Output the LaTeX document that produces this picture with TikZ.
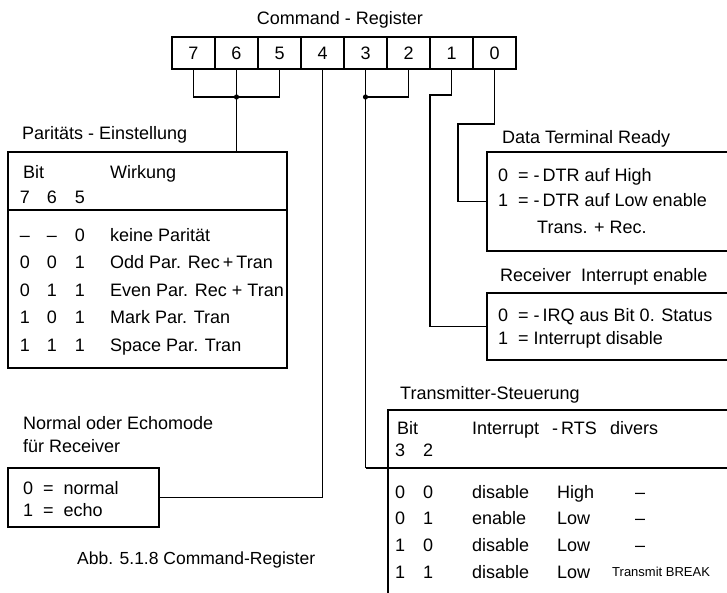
\documentclass[tikz,border=0pt]{standalone}
\usepackage{fontspec}
\setmainfont{Liberation Sans}
\newfontfamily\capfont{Liberation Sans}
\usetikzlibrary{positioning}

\tikzset{
  cell/.style={draw,line width=1.6pt,minimum width=43pt,minimum height=32pt,inner sep=0pt,outer sep=0pt},
  frame/.style={draw,line width=2.8pt,outer sep=0pt,anchor=north west},
  sepline/.style={line width=2.2pt},
  wire/.style={line width=1.6pt},
  txt/.style={anchor=west,inner sep=0pt,text height=12.5pt,text depth=0pt},
  bitno/.style={inner sep=0pt,text height=12.5pt,text depth=0pt},
  small/.style={font=\fontsize{13}{15}\selectfont,text height=9.5pt},
}

\begin{document}
\begin{tikzpicture}[x=1pt,y=-1pt,font=\fontsize{18}{22}\selectfont]
  \useasboundingbox (0,0) rectangle (727,592);
  \clip (0,0) rectangle (727,592);

  % register
  \node[bitno] (title) at (340,18) {Command - Register};
  \foreach \b [count=\i from 0] in {7,6,5,4,3,2,1,0}
    \node[cell] (b\b) at (193.5+43*\i,53) {\b};
  \draw[line width=2.8pt] (b7.north west) rectangle (b0.south east);

  % boxes
  \node[frame,minimum width=279pt,minimum height=216pt] (par) at (8,152) {};
  \node[frame,minimum width=151pt,minimum height=59pt] (echo) at (8,468) {};
  \node[frame,minimum width=260pt,minimum height=99pt] (dtr) at (487,152) {};
  \node[frame,minimum width=260pt,minimum height=67pt] (rie) at (487,293) {};
  \node[frame,minimum width=360pt,minimum height=200pt] (trans) at (388,410) {};
  \coordinate (psep) at (8,210);
  \coordinate (tsep) at (365.5,468);
  \draw[sepline] (psep) -- (psep -| par.east);
  \draw[sepline] (tsep) -- (tsep -| trans.east);

  % Paritaet
  \node[txt] (parlbl) at (22,133) {Paritäts - Einstellung};
  \node[txt] (parbit) at (23,172) {Bit};
  \node[txt] (parwirk) at (110,172) {Wirkung};
  \node[bitno] (p7) at (25,197) {7};
  \node[bitno] (p6) at (52,197) {6};
  \node[bitno] (p5) at (80,197) {5};
  \foreach \r/\u/\v/\w/\t in {1/–/–/0/keine Parität,
      2/0/0/1/Odd Par. Rec\,+\,Tran,
      3/0/1/1/Even Par. Rec + Tran,
      4/1/0/1/Mark Par. Tran,
      5/1/1/1/Space Par. Tran}{
    \node[bitno] (pa\r) at (25,{235+27.5*(\r-1)}) {\u};
    \node[bitno] (pb\r) at (52,{235+27.5*(\r-1)}) {\v};
    \node[bitno] (pc\r) at (80,{235+27.5*(\r-1)}) {\w};
    \node[txt] (pt\r) at (110,{235+27.5*(\r-1)}) {\t};
  }

  % Echomode
  \node[txt] (echolbl) at (23,423) {Normal oder Echomode};
  \node[txt] (echolbl2) at (23,446) {für Receiver};
  \node[txt] (echo0) at (23,488) {0 ~= ~normal};
  \node[txt] (echo1) at (23,510) {1 ~= ~echo};

  % DTR und IRQ
  \node[txt] (dtrlbl) at (502,137) {Data Terminal Ready};
  \node[txt] (dtr0) at (498,175) {0 ~= -\,DTR auf High};
  \node[txt] (dtr1) at (498,200) {1 ~= -\,DTR auf Low enable};
  \node[txt] (dtr2) at (537,227) {Trans. + Rec.};
  \node[txt] (rielbl) at (500,275) {Receiver ~Interrupt enable};
  \node[txt] (rie0) at (498,315) {0 ~= -\,IRQ aus Bit 0. Status};
  \node[txt] (rie1) at (498,338) {1 ~= Interrupt disable};

  % Transmitter
  \node[txt] (trlbl) at (400,393) {Transmitter-Steuerung};
  \node[txt] (trbit) at (397,428) {Bit};
  \node[txt] (trint) at (472,428) {Interrupt};
  \node[txt] (trrts) at (552,428) {-\,RTS};
  \node[txt] (trdiv) at (610,428) {divers};
  \node[bitno] (t3) at (400,450) {3};
  \node[bitno] (t2) at (428,450) {2};
  \foreach \r/\u/\v/\i/\s in {1/0/0/disable/High, 2/0/1/enable/Low,
      3/1/0/disable/Low, 4/1/1/disable/Low}{
    \node[bitno] (ta\r) at (400,{492+26.7*(\r-1)}) {\u};
    \node[bitno] (tb\r) at (428,{492+26.7*(\r-1)}) {\v};
    \node[txt] (ti\r) at (472,{492+26.7*(\r-1)}) {\i};
    \node[txt] (tr\r) at (557,{492+26.7*(\r-1)}) {\s};
  }
  \node[bitno] (td1) at (640,492) {–};
  \node[bitno] (td2) at (640,518.7) {–};
  \node[bitno] (td3) at (640,545.4) {–};
  \node[txt,small] (td4) at (612,572) {Transmit BREAK};

  % Verbindungen
  \coordinate (j765) at (236.5,97);
  \draw[wire] (b7.south) |- (j765) -| (b5.south);
  \draw[wire] (b6.south) -- (par.north -| b6.south);
  \fill (j765) circle (2.6);
  \draw[wire] (b4.south) |- (echo.east);
  \coordinate (j32) at (365.5,97);
  \draw[wire] (b2.south) |- (j32);
  \draw[wire] (b3.south) -- (tsep);
  \fill (j32) circle (2.6);
  \coordinate (k1) at (430,95);
  \draw[wire] (b1.south) |- (k1) |- (rie.west);
  \coordinate (k0) at (458,124);
  \draw[wire] (b0.south) |- (k0) |- (dtr.west);

  % Bildunterschrift
  \node[txt,font=\capfont\fontsize{17.5}{20}\selectfont] (cap) at (77,558) {Abb. 5.1.8 Command-Register};
\end{tikzpicture}
\end{document}
